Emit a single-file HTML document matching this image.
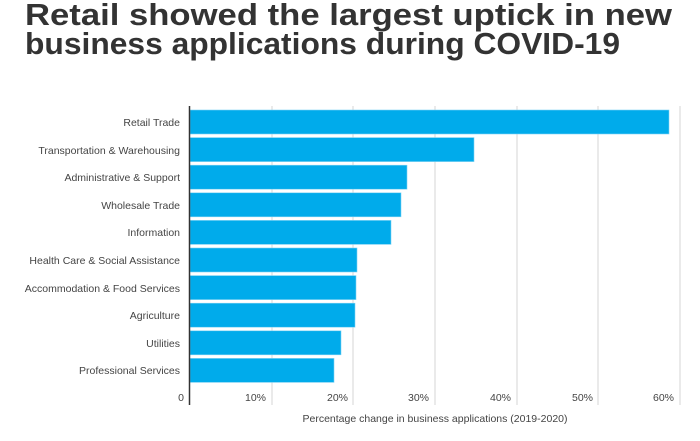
<!DOCTYPE html>
<html><head><meta charset="utf-8"><style>
html,body{margin:0;padding:0;background:#fff;}
svg{display:block;font-family:"Liberation Sans","DejaVu Sans",sans-serif;}
</style></head><body>
<svg width="700" height="441" viewBox="0 0 700 441" xmlns="http://www.w3.org/2000/svg">
<rect width="700" height="441" fill="#fff"/>
<text x="25" y="25" font-size="31" font-weight="bold" fill="#333" textLength="647" lengthAdjust="spacingAndGlyphs">Retail showed the largest uptick in new</text>
<text x="25" y="54" font-size="31" font-weight="bold" fill="#333" textLength="595" lengthAdjust="spacingAndGlyphs">business applications during COVID-19</text>
<g stroke="#e3e3e3" stroke-width="1.5">
<line x1="272" y1="106" x2="272" y2="405"/>
<line x1="353" y1="106" x2="353" y2="405"/>
<line x1="435" y1="106" x2="435" y2="405"/>
<line x1="517" y1="106" x2="517" y2="405"/>
<line x1="598" y1="106" x2="598" y2="405"/>
<line x1="680" y1="106" x2="680" y2="405"/>
</g>
<g fill="#00abeb" stroke="#7fd3f3" stroke-width="0.6">
<rect x="190" y="110" width="479" height="24"/>
<rect x="190" y="137.6" width="284" height="24"/>
<rect x="190" y="165.2" width="217" height="24"/>
<rect x="190" y="192.8" width="211" height="24"/>
<rect x="190" y="220.4" width="201" height="24"/>
<rect x="190" y="248" width="167" height="24"/>
<rect x="190" y="275.6" width="166" height="24"/>
<rect x="190" y="303.2" width="165" height="24"/>
<rect x="190" y="330.8" width="151" height="24"/>
<rect x="190" y="358.4" width="144" height="24"/>
</g>
<line x1="189.5" y1="106" x2="189.5" y2="405" stroke="#333" stroke-width="1.5"/>
<g font-size="10.5" fill="#444" text-anchor="end">
<text x="180" y="126">Retail Trade</text>
<text x="180" y="154">Transportation &amp; Warehousing</text>
<text x="180" y="181">Administrative &amp; Support</text>
<text x="180" y="209">Wholesale Trade</text>
<text x="180" y="236">Information</text>
<text x="180" y="264">Health Care &amp; Social Assistance</text>
<text x="180" y="292">Accommodation &amp; Food Services</text>
<text x="180" y="319">Agriculture</text>
<text x="180" y="347">Utilities</text>
<text x="180" y="374">Professional Services</text>
<text x="184" y="401">0</text>
<text x="266" y="401">10%</text>
<text x="348" y="401">20%</text>
<text x="429" y="401">30%</text>
<text x="511" y="401">40%</text>
<text x="593" y="401">50%</text>
<text x="674" y="401">60%</text>
</g>
<text x="435" y="422" font-size="10.5" fill="#444" text-anchor="middle">Percentage change in business applications (2019-2020)</text>
</svg>
</body></html>
